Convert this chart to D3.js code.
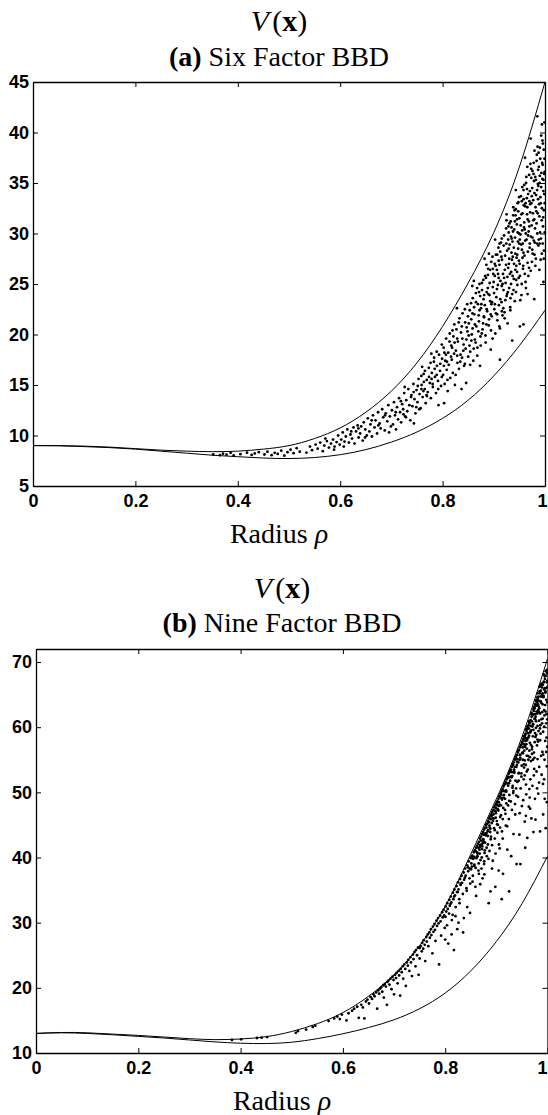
<!DOCTYPE html>
<html lang="en">
<head>
<meta charset="UTF-8">
<title>V(x) against radius, six and nine factor BBD</title>
<script src="https://d3js.org/d3.v7.min.js"></script>
<style>
  body { margin: 0; background: #fff; }
  svg { display: block; }
  .tick text { font-family: "Liberation Sans", Arial, sans-serif; font-weight: bold; font-size: 18px; fill: #000; }
  .title, .xlabel { font-family: "Liberation Serif", "Times New Roman", serif; font-size: 28px; fill: #000; }
</style>
</head>
<body>
<svg width="548" height="1115"></svg>
<script>
const radiusGrid = [0, 0.05, 0.1, 0.15, 0.2, 0.25, 0.3, 0.35, 0.4, 0.45, 0.5, 0.55, 0.6, 0.65, 0.7, 0.75, 0.8, 0.85, 0.9, 0.95, 1];

// (a) six factor: max / min curves
const sixUpper = [9.0, 9.0, 8.95, 8.85, 8.7, 8.55, 8.45, 8.4, 8.45, 8.65, 9.0, 9.7, 10.75, 12.3, 14.4, 17.2, 20.8, 25.1, 30.1, 36.6, 45.0];
const sixLower = [9.0, 8.98, 8.9, 8.8, 8.65, 8.45, 8.25, 8.05, 7.9, 7.77, 7.72, 7.82, 8.1, 8.6, 9.35, 10.35, 11.7, 13.5, 15.9, 18.9, 22.4];

// (b) nine factor: max / min curves
const nineUpper = [13.0, 13.15, 13.1, 12.9, 12.7, 12.45, 12.2, 12.05, 12.15, 12.5, 13.3, 14.5, 16.2, 18.7, 22.0, 26.5, 32.5, 40.5, 49.0, 58.5, 70.5];
const nineLower = [13.0, 13.1, 13.0, 12.8, 12.55, 12.3, 12.0, 11.7, 11.5, 11.45, 11.65, 12.2, 12.95, 13.9, 15.1, 16.8, 19.2, 22.6, 27.1, 32.9, 40.2];

// tick labels
const xTickValues = [0, 0.2, 0.4, 0.6, 0.8, 1];
const xTickLabels = ["0", "0.2", "0.4", "0.6", "0.8", "1"];
const sixYTicks = [5, 10, 15, 20, 25, 30, 35, 40, 45];
const nineYTicks = [10, 20, 30, 40, 50, 60, 70];

// sampled design points [radius, V] (a)
const sixPoints = [
  [0.352,8.12],[0.365,8.05],[0.371,8.2],[0.378,8.1],[0.386,8.28],[0.392,8.02],[0.405,8.15],[0.418,8.3],[0.427,8.08],[0.433,8.22],
  [0.441,8.35],[0.452,8.12],[0.458,8.4],[0.466,8.05],[0.472,8.28],[0.478,8.18],[0.485,8.5],[0.491,8.0],[0.497,8.35],
  [0.503,8.6],[0.509,8.25],[0.515,8.75],[0.521,8.4],[0.534,8.3],[0.541,8.9],[0.545,8.55],[0.552,9.1],[0.556,8.7],[0.561,9.3],
  [0.566,8.45],[0.569,9.0],[0.574,9.45],[0.578,8.8],[0.582,9.2],[0.586,9.6],[0.589,8.9],[0.593,9.35],[0.596,10.0],[0.599,9.1],[0.588,8.6],[0.571,9.7],
  [0.602,9.6],[0.605,10.3],[0.607,8.9],[0.611,9.9],[0.614,10.6],[0.617,9.3],[0.62,10.1],[0.623,9.7],[0.626,10.8],[0.628,9.2],
  [0.631,10.4],[0.634,11.0],[0.636,9.8],[0.639,10.2],[0.641,10.9],[0.644,9.5],[0.646,11.3],[0.649,10.6],[0.652,10.0],[0.654,11.7],
  [0.657,10.4],[0.659,11.1],[0.662,9.9],[0.664,12.0],[0.667,10.8],[0.669,11.5],[0.672,10.2],[0.674,12.3],[0.677,11.2],[0.679,10.7],
  [0.682,12.6],[0.684,11.8],[0.687,10.5],[0.689,12.2],[0.692,11.4],[0.694,13.0],[0.697,11.9],[0.699,10.9],
  [0.701,12.5],[0.703,11.1],[0.705,13.3],[0.707,12.0],[0.709,10.6],[0.711,12.8],[0.713,11.6],[0.715,13.7],[0.717,12.3],[0.719,11.3],
  [0.721,13.1],[0.723,12.6],[0.725,14.2],[0.727,11.9],[0.729,13.5],[0.731,12.4],[0.733,14.6],[0.735,13.0],[0.737,11.5],[0.739,14.0],
  [0.741,12.9],[0.743,15.1],[0.745,13.6],[0.747,12.2],[0.749,14.5],[0.751,13.3],[0.753,15.6],[0.755,14.1],[0.757,12.7],[0.759,15.0],
  [0.761,13.8],[0.763,16.1],[0.765,14.6],[0.767,13.2],[0.769,15.5],[0.771,14.3],[0.773,16.7],[0.775,15.2],[0.777,13.7],[0.779,16.2],
  [0.781,14.8],[0.783,17.3],[0.785,15.8],[0.787,14.2],[0.789,16.9],[0.791,15.4],[0.793,18.0],[0.795,16.4],[0.797,14.9],[0.799,17.6],
  [0.744,11.2],[0.792,13.0],[0.76,16.8],[0.726,14.8],[0.778,18.1],
  [0.801,16.0],[0.802,18.7],[0.804,15.1],[0.805,17.4],[0.807,19.6],[0.808,16.5],[0.81,14.4],[0.811,18.2],[0.812,17.0],[0.814,20.1],
  [0.815,15.7],[0.817,18.9],[0.818,17.5],[0.82,16.2],[0.821,19.8],[0.823,21.0],[0.824,15.0],[0.826,18.4],[0.827,20.5],[0.829,17.2],
  [0.83,19.3],[0.832,16.6],[0.833,21.6],[0.835,18.0],[0.836,20.2],[0.838,17.7],[0.839,22.1],[0.841,19.0],[0.842,16.9],[0.844,21.2],
  [0.845,18.6],[0.847,20.7],[0.848,23.0],[0.85,17.8],[0.851,19.9],[0.853,22.4],[0.854,18.3],[0.856,21.5],[0.857,20.0],[0.859,23.6],
  [0.86,17.4],[0.862,22.0],[0.863,19.5],[0.865,24.1],[0.866,20.8],[0.868,18.7],[0.869,23.0],[0.871,21.3],[0.872,25.0],[0.874,19.8],
  [0.875,22.6],[0.877,24.4],[0.878,20.5],[0.88,23.5],[0.881,21.7],[0.883,25.8],[0.884,19.2],[0.886,24.2],[0.887,22.3],[0.889,26.5],
  [0.89,20.9],[0.892,25.1],[0.893,23.3],[0.895,27.2],[0.896,21.8],[0.898,24.7],[0.899,26.0],[0.803,13.2],[0.846,15.2],[0.873,16.9],
  [0.894,18.5],[0.828,22.6],[0.858,24.8],[0.882,27.5],[0.837,14.6],[0.861,25.3],
  [0.901,22.5],[0.902,25.8],[0.903,20.1],[0.904,27.9],[0.905,23.7],[0.906,26.4],[0.907,21.4],[0.908,24.9],[0.909,28.6],[0.91,22.9],
  [0.911,26.9],[0.912,20.6],[0.913,25.3],[0.914,29.1],[0.915,23.2],[0.916,27.4],[0.917,21.9],[0.918,26.0],[0.919,24.4],[0.92,29.8],
  [0.921,22.2],[0.922,27.8],[0.923,25.1],[0.924,30.5],[0.925,23.8],[0.926,28.3],[0.927,21.1],[0.928,26.6],[0.929,30.1],[0.93,24.6],
  [0.931,28.9],[0.932,22.7],[0.933,31.2],[0.934,26.2],[0.935,29.5],[0.936,24.0],[0.937,27.7],[0.938,31.8],[0.939,25.5],[0.94,30.4],
  [0.941,23.3],[0.942,28.0],[0.943,32.4],[0.944,26.8],[0.945,30.9],[0.946,24.9],[0.947,29.2],[0.948,33.1],[0.949,27.3],[0.95,31.5],
  [0.951,25.8],[0.952,29.9],[0.953,33.7],[0.954,23.9],[0.955,28.4],[0.956,32.0],[0.957,26.5],[0.958,34.3],[0.959,30.6],[0.96,27.8],
  [0.961,32.7],[0.962,25.2],[0.963,35.0],[0.964,29.4],[0.965,31.9],[0.966,27.1],[0.967,33.9],[0.968,30.2],[0.969,35.8],[0.97,28.6],
  [0.971,32.9],[0.972,26.3],[0.973,36.4],[0.974,30.8],[0.975,34.5],[0.976,28.0],[0.977,33.3],[0.978,37.0],[0.979,31.4],[0.98,29.1],
  [0.981,35.6],[0.982,27.5],[0.983,32.2],[0.984,37.8],[0.985,30.0],[0.986,34.9],[0.987,28.8],[0.988,36.6],[0.989,31.7],[0.99,38.5],
  [0.991,33.6],[0.992,29.5],[0.993,36.0],[0.994,32.5],[0.995,39.2],[0.996,30.7],[0.997,35.3],[0.998,28.3],[0.999,37.4],[0.9995,33.0],
  [0.912,17.5],[0.936,19.4],[0.958,21.0],[0.979,23.5],[0.997,25.2],[0.972,39.4],[0.985,41.6],[0.961,37.5],[0.994,40.8],[0.943,34.3],
  [0.925,31.9],[0.989,26.4],[0.999,41.0],[0.966,24.0],[0.951,20.8],
  [0.9505,27.0],[0.9525,30.8],[0.9545,25.0],[0.9565,29.0],[0.9585,32.8],[0.9605,26.0],[0.9625,30.0],[0.9645,33.5],[0.9665,28.2],[0.9685,31.2],
  [0.9705,34.2],[0.9725,29.7],[0.9745,27.2],[0.9765,32.0],[0.9785,35.2],[0.9805,30.5],[0.9825,33.8],[0.9845,29.0],[0.9865,36.3],[0.9885,32.9],
  [0.9905,30.1],[0.9925,34.6],[0.9945,37.0],[0.9965,31.6],[0.9985,35.9],[0.9915,27.4],[0.9955,29.0],[0.9975,38.3],[0.9875,38.0],[0.9835,31.0],
  [0.9395,27.0],[0.9415,29.6],[0.9435,25.4],[0.9455,31.4],[0.9475,28.5],[0.9315,26.0],[0.9335,29.7],[0.9355,27.4],[0.9275,24.2],[0.9295,27.0],
  [0.7515,14.9],[0.7545,12.6],[0.7585,15.9],[0.7625,14.4],[0.7655,16.4],[0.7695,13.9],[0.7735,15.8],[0.7765,17.2],[0.7805,15.1],[0.7845,16.6],
  [0.7885,18.3],[0.7915,14.6],[0.7955,17.1],[0.7985,19.0],[0.8025,16.9],[0.8065,18.0],[0.8095,15.5],[0.8135,19.3],[0.8165,17.8],[0.8195,20.4],
  [0.8225,18.1],[0.8255,16.0],[0.8285,19.6],[0.8315,21.2],[0.8345,17.3],[0.8375,20.8],[0.8405,18.4],[0.8435,22.5],[0.8465,19.5],[0.8495,21.8],
  [0.8525,18.9],[0.8555,23.1],[0.8585,20.6],[0.8615,22.7],[0.8645,19.2],[0.8675,24.6],[0.8705,21.9],[0.8735,23.8],[0.8765,20.1],[0.8795,25.4],
  [0.8825,22.9],[0.8855,21.0],[0.8885,25.9],[0.8915,23.9],[0.8945,20.4],[0.8975,27.7],[0.9005,24.1],[0.9035,26.8],[0.9065,22.0],[0.9095,25.6],
  [0.9125,28.2],[0.9155,24.8],[0.9185,22.6],[0.9215,26.4],[0.9245,29.0],[0.9265,25.7],[0.9305,31.0],[0.9325,23.6],[0.9345,28.1],[0.9375,30.2],
  [0.9385,24.4],[0.9425,31.8],[0.9445,27.6],[0.9465,33.0],[0.9485,25.6],[0.9495,30.0],[0.9535,28.9],[0.9555,34.6],[0.9575,26.8],[0.9595,31.1],
  [0.9615,29.3],[0.9635,35.6],[0.9655,32.6],[0.9675,25.8],[0.9695,30.7],[0.9715,36.9],[0.9735,33.0],[0.9755,29.6],[0.9775,35.9],[0.9795,27.9],
  [0.9815,32.6],[0.9855,38.6],[0.9865,33.4],[0.9895,35.0],[0.9935,31.3],[0.9955,36.8],[0.9985,33.9],[0.9995,30.1],[0.9975,27.5],[0.9925,39.7],
  [0.9895,29.0],[0.9845,34.3],[0.9795,38.2],[0.9755,36.2],[0.9695,33.2],[0.9655,36.6],[0.9595,34.8],[0.9555,30.3],[0.9495,33.6],[0.9455,26.2],
  [0.9405,32.3],[0.9365,29.2],[0.9285,30.7],[0.9225,23.4],[0.9155,29.5],[0.9095,27.3],[0.9025,29.4],[0.8965,23.2],[0.8905,28.0],[0.8855,26.9],
  [0.8512,21.1],[0.8538,17.0],[0.8561,19.4],[0.8583,22.1],[0.8607,18.6],[0.8631,21.0],[0.8652,23.2],[0.8677,17.9],[0.8698,20.3],[0.8722,22.4],
  [0.8744,18.9],[0.8768,25.1],[0.8791,21.1],[0.8812,23.9],[0.8838,19.9],[0.8861,22.5],[0.8883,24.6],[0.8907,21.5],[0.8928,26.4],[0.8952,23.0],
  [0.8976,19.6],[0.8997,25.2],[0.9018,27.0],[0.9042,22.1],[0.9061,24.5],[0.9083,26.0],[0.9108,20.8],[0.9127,23.5],[0.9149,27.7],[0.9171,25.0],
  [0.9193,28.8],[0.9212,21.6],[0.9238,26.9],[0.9259,24.0],[0.9281,29.4],[0.9302,27.5],[0.9323,22.4],[0.9347,30.6],[0.9368,25.8],[0.9391,28.6],
  [0.9412,31.2],[0.9433,24.2],[0.9457,27.9],[0.9478,32.2],[0.9497,29.0],[0.9518,23.4],[0.9539,31.9],[0.9561,27.6],[0.9582,33.4],[0.9603,30.4],
  [0.9627,24.6],[0.9648,34.4],[0.9669,29.8],[0.9688,26.6],[0.9711,32.1],[0.9732,35.5],[0.9751,28.4],[0.9773,31.3],[0.9794,34.0],[0.9812,26.8],
  [0.9836,37.2],[0.9857,32.0],[0.9878,29.4],[0.9898,35.7],[0.9917,33.0],[0.9938,28.0],[0.9959,38.9],[0.9978,32.3],[0.9992,36.1],[0.9968,34.2],
  [0.9948,35.4],[0.9907,37.4],[0.9869,34.7],[0.9822,35.3],[0.9781,29.3],[0.9742,33.7],[0.9703,29.0],[0.9661,31.4],[0.9621,33.0],[0.9579,28.1],
  [0.9547,33.2],[0.9508,29.4],[0.9466,30.1],[0.9421,26.4],[0.9381,32.6],[0.9337,25.0],[0.9291,28.5],[0.9248,31.3],[0.9201,25.6],[0.9158,22.3],
  [0.9112,29.0],[0.9068,27.9],[0.9021,23.0],[0.8981,26.5],[0.8938,22.0],[0.8893,24.0],[0.8847,25.6],[0.8806,21.8],[0.8757,23.0],[0.8712,24.2],
  [0.6085,9.4],[0.6215,10.4],[0.6355,10.7],[0.6485,9.8],[0.6615,11.5],[0.6745,11.0],[0.6875,12.0],[0.6955,10.3],[0.7085,12.3],[0.7185,13.4],
  [0.7285,11.8],[0.7385,13.8],[0.7485,12.8],[0.7585,14.6],[0.7685,14.0],[0.7785,15.6],[0.7885,16.0],[0.7985,15.8],[0.8085,17.3],[0.8185,18.7],
  [0.8285,17.9],[0.8385,19.6],[0.8485,20.3],[0.8435,17.1],[0.8235,19.2],[0.8035,18.2],[0.7835,17.7],[0.7635,15.3],[0.7435,14.3],[0.7235,12.1]
];

// sampled design points [radius, V] (b)
const ninePoints = [
  [0.383,12.0],[0.401,12.1],[0.432,12.3],[0.441,12.35],[0.452,12.45],[0.508,13.1],[0.512,13.35],[0.528,13.6],[0.541,14.0],[0.546,14.2],
  [0.572,14.9],[0.583,15.3],[0.589,15.6],[0.594,15.2],[0.598,15.9],[0.607,15.0],[0.611,16.1],[0.618,16.5],[0.622,16.8],[0.628,17.1],
  [0.631,15.4],[0.636,17.4],[0.639,17.0],[0.642,15.3],[0.645,17.9],[0.648,18.2],[0.651,17.6],[0.654,18.6],
  [0.657,18.3],[0.66,19.0],[0.662,18.7],[0.665,19.3],[0.667,16.8],[0.669,19.6],[0.671,19.1],[0.673,19.9],[0.675,20.1],[0.677,19.4],
  [0.679,20.4],[0.68,18.5],[0.682,20.6],[0.684,20.2],[0.686,17.4],[0.687,20.9],[0.689,21.1],[0.691,20.5],[0.693,21.4],[0.695,19.8],
  [0.697,21.7],[0.699,21.2],[0.7,19.0],[0.702,22.0],[0.704,21.5],[0.705,22.3],[0.707,20.7],[0.709,22.6],[0.71,21.9],[0.712,18.8],
  [0.713,22.9],[0.715,22.4],[0.717,23.3],[0.718,21.4],[0.72,23.6],[0.722,22.9],[0.723,20.3],[0.725,23.9],[0.727,23.4],[0.728,24.3],
  [0.73,22.6],[0.732,24.7],[0.733,23.9],[0.735,21.8],[0.737,25.1],[0.738,24.4],[0.74,25.5],[0.742,23.3],[0.743,25.8],[0.745,25.0],
  [0.747,26.2],[0.748,22.0],[0.75,26.1],[0.75,24.5],
  [0.752,26.4],[0.754,25.6],[0.755,26.9],[0.757,26.0],[0.758,27.3],[0.76,26.6],[0.761,24.1],[0.763,27.8],[0.764,27.1],[0.766,28.2],
  [0.767,26.4],[0.769,28.5],[0.77,27.7],[0.772,29.0],[0.773,28.1],[0.775,25.3],[0.776,29.4],[0.777,28.6],[0.779,29.8],[0.78,28.9],
  [0.781,27.2],[0.783,30.3],[0.784,29.5],[0.786,30.7],[0.787,29.9],[0.788,23.6],[0.79,31.1],[0.791,30.2],[0.792,28.0],[0.794,31.6],
  [0.795,30.8],[0.797,32.0],[0.798,31.1],[0.799,29.2],[0.801,32.5],[0.802,31.7],[0.804,33.0],[0.805,32.1],[0.806,26.8],[0.808,33.5],
  [0.809,32.6],[0.811,34.0],[0.812,33.1],[0.813,30.4],[0.815,34.6],[0.816,33.6],[0.818,35.1],[0.819,34.2],[0.82,31.0],[0.822,35.6],
  [0.823,34.7],[0.825,36.2],[0.826,35.1],[0.828,33.0],[0.829,36.7],[0.83,35.8],[0.832,37.2],[0.833,36.1],[0.835,28.5],[0.836,37.7],
  [0.837,36.6],[0.839,38.3],[0.84,37.2],[0.842,34.9],[0.843,38.8],[0.845,37.9],[0.846,39.4],[0.848,38.3],[0.849,36.0],[0.85,39.9],
  [0.8,27.4],[0.826,30.0],[0.843,32.4],[0.817,25.8],
  [0.851,40.0],[0.852,38.6],[0.853,40.3],[0.854,37.2],[0.855,39.8],[0.856,40.8],[0.857,38.9],[0.858,41.1],[0.859,35.5],[0.86,41.5],
  [0.861,39.9],[0.862,41.8],[0.863,40.6],[0.864,42.1],[0.865,38.0],[0.866,42.4],[0.867,41.2],[0.868,42.9],[0.869,39.6],[0.87,43.2],
  [0.871,42.0],[0.872,43.6],[0.873,36.8],[0.874,43.9],[0.875,42.5],[0.876,44.3],[0.877,40.7],[0.878,44.6],[0.879,43.4],[0.88,45.0],
  [0.881,41.5],[0.882,45.2],[0.883,44.0],[0.884,45.6],[0.885,33.0],[0.886,46.0],[0.887,44.6],[0.888,46.3],[0.889,42.8],[0.89,46.6],
  [0.891,45.3],[0.892,47.0],[0.893,39.5],[0.894,47.3],[0.895,46.0],[0.896,47.7],[0.897,44.2],[0.898,48.0],[0.899,46.8],[0.9,48.3],
  [0.901,45.6],[0.902,48.6],[0.903,47.4],[0.904,49.0],[0.905,42.0],[0.906,49.4],[0.907,48.1],[0.908,49.8],[0.909,46.5],[0.91,50.1],
  [0.911,48.9],[0.912,50.5],[0.913,37.5],[0.914,50.9],[0.915,49.6],[0.916,51.2],[0.917,47.3],[0.918,51.6],[0.919,50.3],[0.92,52.0],
  [0.921,44.8],[0.922,52.4],[0.923,51.0],[0.924,52.8],[0.925,48.7],[0.926,53.1],[0.927,51.8],[0.928,53.5],[0.929,40.2],[0.93,53.9],
  [0.931,52.5],[0.932,54.2],[0.933,49.9],[0.934,54.6],[0.935,53.2],[0.936,55.0],[0.937,46.6],[0.938,55.4],[0.939,53.9],[0.94,55.7],
  [0.941,51.6],[0.942,56.1],[0.943,54.6],[0.944,56.5],[0.945,43.5],[0.946,56.9],[0.947,55.3],[0.948,57.2],[0.949,52.4],[0.95,57.6],
  [0.872,41.3],[0.888,43.9],[0.903,45.0],[0.917,49.0],[0.932,51.0],[0.944,53.0],[0.876,39.0],[0.911,44.0],[0.939,49.5],[0.898,35.5],
  [0.925,34.8],[0.947,39.0],
  [0.951,57.8],[0.952,56.0],[0.953,58.2],[0.954,54.3],[0.955,58.6],[0.956,57.1],[0.957,59.0],[0.958,51.2],[0.959,59.4],[0.96,58.0],
  [0.961,59.8],[0.962,55.6],[0.963,60.3],[0.964,58.7],[0.965,60.7],[0.966,47.5],[0.967,61.1],[0.968,59.5],[0.969,61.6],[0.97,57.0],
  [0.971,62.0],[0.972,60.4],[0.973,62.5],[0.974,53.6],[0.975,62.9],[0.976,61.2],[0.977,63.4],[0.978,58.8],[0.979,63.8],[0.98,62.1],
  [0.981,64.3],[0.982,49.8],[0.983,64.7],[0.984,62.9],[0.985,65.2],[0.986,60.3],[0.987,65.6],[0.988,63.7],[0.989,66.1],[0.99,56.2],
  [0.991,66.5],[0.992,64.6],[0.993,67.0],[0.994,61.8],[0.995,67.4],[0.996,65.5],[0.997,67.9],[0.998,58.4],[0.999,68.3],[1.0,66.2],
  [0.9515,55.0],[0.9535,57.4],[0.9555,52.6],[0.9575,58.3],[0.9595,56.7],[0.9615,53.5],[0.9635,59.8],[0.9655,57.6],[0.9675,54.8],[0.9695,60.9],
  [0.9715,58.6],[0.9735,56.1],[0.9755,62.0],[0.9775,59.9],[0.9795,57.2],[0.9815,63.5],[0.9835,61.0],[0.9855,58.0],[0.9875,64.7],[0.9895,62.3],
  [0.9915,59.3],[0.9935,65.8],[0.9955,63.4],[0.9975,60.6],[0.9995,67.1],
  [0.9525,48.8],[0.9645,50.5],[0.9765,45.8],[0.9885,52.7],[0.9965,44.5],[0.9985,54.0],[0.9945,49.0],[0.9805,55.1],[0.9705,51.0],[0.9605,43.0],
  [0.9525,58.1],[0.9565,58.8],[0.9605,60.1],[0.9645,60.7],[0.9685,62.2],[0.9725,62.8],[0.9765,64.1],[0.9805,64.6],[0.9845,66.2],[0.9885,66.7],
  [0.9925,68.1],[0.9965,68.6],[0.9995,63.8],[0.9905,61.3],[0.9825,59.4],[0.9745,55.3],[0.9665,52.0],[0.9585,49.7],
  [0.8005,30.9],[0.8035,29.6],[0.8075,31.4],[0.8105,32.9],[0.8145,31.2],[0.8175,34.0],[0.8205,32.4],[0.8245,34.7],[0.8275,33.6],[0.8305,36.0],
  [0.8345,34.4],[0.8385,36.9],[0.8415,35.3],[0.8445,38.5],[0.8475,36.8],[0.8505,38.2],[0.8535,36.3],[0.8565,40.1],[0.8595,38.4],[0.8625,40.8],
  [0.8655,39.1],[0.8685,41.6],[0.8715,40.0],[0.8745,42.8],[0.8775,41.1],[0.8805,43.7],[0.8835,42.0],[0.8865,44.9],[0.8895,43.2],[0.8925,46.0],
  [0.8955,44.5],[0.8985,47.1],[0.9015,45.1],[0.9045,47.9],[0.9075,46.2],[0.9105,49.1],[0.9135,47.6],[0.9165,50.2],[0.9195,48.3],[0.9225,51.4],
  [0.9255,49.6],[0.9285,52.4],[0.9315,50.7],[0.9345,53.5],[0.9375,51.8],[0.9405,54.7],[0.9435,52.9],[0.9465,55.8],[0.9495,54.1],[0.9545,56.4],
  [0.9585,57.4],[0.9625,58.4],[0.9665,59.3],[0.9705,60.1],[0.9745,61.3],[0.9785,62.4],[0.9825,63.2],[0.9865,64.0],[0.9905,65.2],[0.9945,66.0],
  [0.9985,66.9],[0.9995,61.2],[0.9955,57.9],[0.9915,55.8],[0.9865,59.0],[0.9815,57.8],[0.9765,58.5],[0.9715,55.0],[0.9675,57.3],[0.9625,55.0],
  [0.9575,54.2],[0.9535,52.0],[0.9475,50.6],[0.9425,49.3],[0.9365,48.2],[0.9305,47.3],[0.9245,45.9],[0.9185,44.9],[0.9125,42.9],[0.9065,41.4],
  [0.8985,40.6],[0.8915,38.3],[0.8845,39.8],[0.8765,37.4],[0.8685,35.9],[0.8605,34.1],[0.8485,31.5],[0.8365,30.7],[0.8235,29.0],[0.8125,28.2],
  [0.9555,45.5],[0.9685,46.0],[0.9835,51.5],[0.9935,52.0],[0.9995,57.0],[0.9785,53.2],[0.9635,47.8],[0.9455,46.8],[0.9335,43.6],[0.9215,41.2],
  [0.9045,38.0],[0.8885,34.8],[0.9985,48.5],[0.9915,46.6],[0.9725,43.9],[0.9565,41.5],[0.9855,44.0],[0.9395,39.0],[0.9105,33.6],[0.9755,49.0],
  [0.9975,64.2],[0.9935,62.6],[0.9895,60.6],[0.9855,62.1],[0.9805,60.2],[0.9755,59.1],[0.9695,56.6],[0.9655,55.4],[0.9595,53.2],[0.9555,54.9],
  [0.8512,39.1],[0.8541,39.9],[0.8569,38.7],[0.8593,41.0],[0.8622,40.1],[0.8648,41.5],[0.8674,40.6],[0.8702,42.6],[0.8727,41.7],[0.8753,43.5],
  [0.8779,42.3],[0.8806,44.6],[0.8831,43.3],[0.8857,45.4],[0.8883,44.4],[0.8909,46.4],[0.8934,45.6],[0.8961,47.2],[0.8987,46.1],[0.9013,48.1],
  [0.9038,47.2],[0.9064,49.3],[0.9091,48.0],[0.9117,50.3],[0.9142,49.2],[0.9168,51.3],[0.9194,50.1],[0.9221,52.2],[0.9247,51.4],[0.9273,53.4],
  [0.9298,52.3],[0.9325,54.3],[0.9351,53.0],[0.9377,55.3],[0.9402,54.2],[0.9428,56.4],[0.9455,55.0],[0.9481,57.3],[0.9507,56.1],[0.9533,58.6],
  [0.9559,57.0],[0.9585,59.7],[0.9611,58.3],[0.9637,60.9],[0.9663,59.2],[0.9689,62.0],[0.9716,60.5],[0.9742,63.1],[0.9768,61.6],[0.9794,64.2],
  [0.9819,62.6],[0.9845,65.5],[0.9871,63.9],[0.9897,66.6],[0.9923,64.8],[0.9948,67.8],[0.9974,66.0],[0.9989,68.8],[0.9962,62.4],[0.9936,60.1],
  [0.9906,63.5],[0.9881,61.2],[0.9853,59.8],[0.9828,64.0],[0.9803,58.1],[0.9777,60.9],[0.9751,57.7],[0.9724,59.6],[0.9697,55.9],[0.9671,60.2],
  [0.9645,56.4],[0.9619,59.1],[0.9593,55.6],[0.9567,57.9],[0.9541,53.8],[0.9515,56.9],[0.9489,52.9],[0.9463,55.7],[0.9437,51.8],[0.9411,55.1],
  [0.9386,50.6],[0.9359,53.9],[0.9334,50.2],[0.9307,53.1],[0.9282,48.6],[0.9255,52.3],[0.9229,48.0],[0.9203,51.4],[0.9177,46.7],[0.9151,50.2],
  [0.9126,45.9],[0.9099,49.6],[0.9073,44.6],[0.9047,48.5],[0.9021,43.8],[0.8995,47.6],[0.8969,42.9],[0.8943,46.6],[0.8917,41.9],[0.8891,45.9],
  [0.8866,41.0],[0.8839,44.2],[0.8813,40.2],[0.8787,43.7],[0.8762,39.4],[0.8735,42.2],[0.8709,38.3],[0.8683,41.9],[0.8658,37.5],[0.8631,40.2],
  [0.9975,56.2],[0.9942,55.0],[0.9912,51.3],[0.9874,55.6],[0.9838,53.9],[0.9796,50.6],[0.9733,52.6],[0.9652,49.2],[0.9577,46.4],[0.9499,47.9],
  [0.9982,62.0],[0.9958,65.3],[0.9928,66.9],[0.9893,64.9],[0.9862,66.4],[0.9834,62.3],[0.9809,65.2],[0.9786,63.3],[0.9759,63.5],[0.9706,61.8]
];

const svg = d3.select("svg");
const W = 548;

const panels = [
  { left: 33, right: 545, top: 82, bottom: 486, yDomain: [5, 45], yTicks: sixYTicks,
    upper: sixUpper, lower: sixLower, points: sixPoints,
    tag: "(a)", name: " Six Factor BBD", textX: 279, vY: 31, subY: 66, labelY: 543 },
  { left: 36, right: 547.5, top: 649, bottom: 1053, yDomain: [10, 72], yTicks: nineYTicks,
    upper: nineUpper, lower: nineLower, points: ninePoints,
    tag: "(b)", name: " Nine Factor BBD", textX: 282, vY: 598, subY: 632, labelY: 1110 }
];

function drawPanel(p) {
  const g = svg.append("g");

  const x = d3.scaleLinear().domain([0, 1]).range([p.left, p.right]);
  const y = d3.scaleLinear().domain(p.yDomain).range([p.bottom, p.top]);

  // scatter
  g.append("g")
    .selectAll("circle")
    .data(p.points)
    .join("circle")
    .attr("cx", d => x(d[0]))
    .attr("cy", d => y(d[1]))
    .attr("r", 1.4)
    .attr("fill", "#000");

  // bounding curves
  const line = d3.line()
    .x((d, i) => x(radiusGrid[i]))
    .y(d => y(d))
    .curve(d3.curveNatural);

  [p.upper, p.lower].forEach(c => {
    g.append("path")
      .attr("d", line(c))
      .attr("fill", "none")
      .attr("stroke", "#000")
      .attr("stroke-width", 1);
  });

  // box with inward ticks on all sides
  const bx = g.append("g")
    .attr("transform", `translate(0,${p.bottom})`)
    .call(d3.axisBottom(x).tickValues(xTickValues).tickFormat((d, i) => xTickLabels[i])
      .tickSize(-5).tickSizeOuter(0).tickPadding(8));
  g.append("g")
    .attr("transform", `translate(0,${p.top})`)
    .call(d3.axisTop(x).tickValues(xTickValues).tickFormat("").tickSize(-5).tickSizeOuter(0));
  g.append("g")
    .attr("transform", `translate(${p.left},0)`)
    .call(d3.axisLeft(y).tickValues(p.yTicks).tickFormat(d => d)
      .tickSize(-5).tickSizeOuter(0).tickPadding(4));
  g.append("g")
    .attr("transform", `translate(${p.right},0)`)
    .call(d3.axisRight(y).tickValues(p.yTicks).tickFormat("").tickSize(-5).tickSizeOuter(0));

  g.selectAll(".domain").attr("stroke", "#000").attr("stroke-width", 1.3);
  g.selectAll(".tick line").attr("stroke", "#000").attr("stroke-width", 1);

  // keep the last x label inside the page
  bx.selectAll(".tick text").each(function (d) {
    const b = this.getBBox();
    const over = x(d) + b.x + b.width - (W - 1);
    if (over > 0) d3.select(this).attr("dx", -over);
  });

  // titles
  const vt = svg.append("text").attr("class", "title")
    .attr("x", p.textX).attr("y", p.vY).attr("text-anchor", "middle")
    .style("font-size", "30px");
  vt.append("tspan").attr("font-style", "italic").text("V");
  vt.append("tspan").attr("dx", 3).text("(");
  vt.append("tspan").attr("font-weight", "bold").text("x");
  vt.append("tspan").text(")");

  const st = svg.append("text").attr("class", "title")
    .attr("x", p.textX).attr("y", p.subY).attr("text-anchor", "middle");
  st.append("tspan").attr("font-weight", "bold").text(p.tag);
  st.append("tspan").text(p.name);

  const xl = svg.append("text").attr("class", "xlabel")
    .attr("x", p.textX).attr("y", p.labelY).attr("text-anchor", "middle");
  xl.append("tspan").text("Radius ");
  xl.append("tspan").attr("font-style", "italic").text("ρ");
}

panels.forEach(drawPanel);
</script>
</body>
</html>
